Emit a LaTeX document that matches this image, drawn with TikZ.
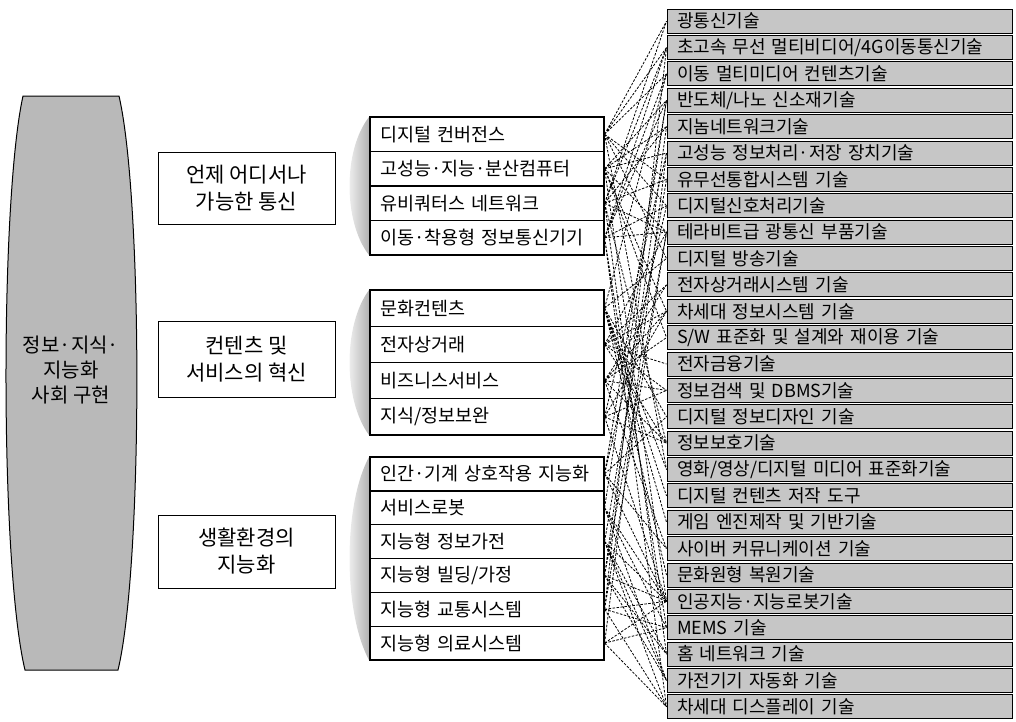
\documentclass[tikz,border=0pt]{standalone}
\usepackage{fontspec}
\setmainfont{Noto Sans CJK KR}
\usepackage{tikz}

\begin{document}
\begin{tikzpicture}[x=1pt, y=-1pt,
	goalText/.style={align=center, font=\fontsize{20}{25}\selectfont},
	areaBox/.style={rectangle, draw=black, line width=1pt, fill=white, minimum width=177pt, align=center, inner sep=0pt, font=\fontsize{21}{27}\selectfont},
	itemBox/.style={rectangle, draw=black, line width=1.2pt, fill=white, text width=214pt, inner xsep=10pt, inner ysep=0pt, align=left, font=\fontsize{18.5}{20}\selectfont},
	techBox/.style={rectangle, draw=black, line width=1pt, fill=gray!45, text width=325pt, inner xsep=10pt, inner ysep=0pt, minimum height=24pt, align=left, font=\fontsize{18}{19}\selectfont},
	link/.style={dashed, dash pattern=on 2.5pt off 1.5pt, line width=0.8pt},
	lens/.style={left color=white, right color=gray!60, draw=none}]
	\useasboundingbox (0,0) rectangle (1016,721);

	% goal
	\draw[fill=gray!55, line width=1pt] (23,96) -- (119,96) .. controls (143,200) and (143,566) .. (118,670) -- (25,670) .. controls (0,566) and (0,200) .. (23,96) -- cycle;
	\node[goalText](goalBox) at (71,370){정보·지식·\\지능화\\사회 구현};

	% areas
	\node[areaBox, minimum height=72pt](areaBox1) at (246.5,188){언제 어디서나\\가능한 통신};
	\node[areaBox, minimum height=76pt](areaBox2) at (246.5,359){컨텐츠 및\\서비스의 혁신};
	\node[areaBox, minimum height=73pt](areaBox3) at (246.5,551.5){생활환경의\\지능화};

	% shading left of each group
	\shade[lens] (369,117) .. controls (343,150) and (343,222) .. (369,255) -- cycle;
	\shade[lens] (369,290) .. controls (343,325) and (343,400) .. (369,435) -- cycle;
	\shade[lens] (369,457) .. controls (343,505) and (343,612) .. (369,660) -- cycle;

	% items
	\node[itemBox, minimum height=34.5pt](itemBox1)  at (487,134.25){디지털 컨버전스};
	\node[itemBox, minimum height=34.5pt](itemBox2)  at (487,168.75){고성능·지능·분산컴퓨터};
	\node[itemBox, minimum height=34.5pt](itemBox3)  at (487,203.25){유비쿼터스 네트워크};
	\node[itemBox, minimum height=34.5pt](itemBox4)  at (487,237.75){이동·착용형 정보통신기기};

	\node[itemBox, minimum height=36.25pt](itemBox5) at (487,308.1){문화컨텐츠};
	\node[itemBox, minimum height=36.25pt](itemBox6) at (487,344.4){전자상거래};
	\node[itemBox, minimum height=36.25pt](itemBox7) at (487,380.6){비즈니스서비스};
	\node[itemBox, minimum height=36.25pt](itemBox8) at (487,416.9){지식/정보보완};

	\node[itemBox, minimum height=33.8pt](itemBox9)  at (487,473.9){인간·기계 상호작용 지능화};
	\node[itemBox, minimum height=33.8pt](itemBox10) at (487,507.8){서비스로봇};
	\node[itemBox, minimum height=33.8pt](itemBox11) at (487,541.6){지능형 정보가전};
	\node[itemBox, minimum height=33.8pt](itemBox12) at (487,575.4){지능형 빌딩/가정};
	\node[itemBox, minimum height=33.8pt](itemBox13) at (487,609.2){지능형 교통시스템};
	\node[itemBox, minimum height=33.8pt](itemBox14) at (487,643.1){지능형 의료시스템};

	% technologies
	\node[techBox](techBox1)  at (839.5,21.2){광통신기술};
	\node[techBox](techBox2)  at (839.5,47.6){초고속 무선 멀티비디어/4G이동통신기술};
	\node[techBox](techBox3)  at (839.5,73.9){이동 멀티미디어 컨텐츠기술};
	\node[techBox](techBox4)  at (839.5,100.3){반도체/나노 신소재기술};
	\node[techBox](techBox5)  at (839.5,126.7){지놈네트워크기술};
	\node[techBox](techBox6)  at (839.5,153.1){고성능 정보처리·저장 장치기술};
	\node[techBox](techBox7)  at (839.5,179.4){유무선통합시스템 기술};
	\node[techBox](techBox8)  at (839.5,205.8){디지털신호처리기술};
	\node[techBox](techBox9)  at (839.5,232.2){테라비트급 광통신 부품기술};
	\node[techBox](techBox10) at (839.5,258.5){디지털 방송기술};
	\node[techBox](techBox11) at (839.5,284.9){전자상거래시스템 기술};
	\node[techBox](techBox12) at (839.5,311.3){차세대 정보시스템 기술};
	\node[techBox](techBox13) at (839.5,337.6){S/W 표준화 및 설계와 재이용 기술};
	\node[techBox](techBox14) at (839.5,364.0){전자금융기술};
	\node[techBox](techBox15) at (839.5,390.4){정보검색 및 DBMS기술};
	\node[techBox](techBox16) at (839.5,416.8){디지털 정보디자인 기술};
	\node[techBox](techBox17) at (839.5,443.1){정보보호기술};
	\node[techBox](techBox18) at (839.5,469.5){영화/영상/디지털 미디어 표준화기술};
	\node[techBox](techBox19) at (839.5,495.9){디지털 컨텐츠 저작 도구};
	\node[techBox](techBox20) at (839.5,522.2){게임 엔진제작 및 기반기술};
	\node[techBox](techBox21) at (839.5,548.6){사이버 커뮤니케이션 기술};
	\node[techBox](techBox22) at (839.5,575.0){문화원형 복원기술};
	\node[techBox](techBox23) at (839.5,601.3){인공지능·지능로봇기술};
	\node[techBox](techBox24) at (839.5,627.7){MEMS 기술};
	\node[techBox](techBox25) at (839.5,654.1){홈 네트워크 기술};
	\node[techBox](techBox26) at (839.5,680.5){가전기기 자동화 기술};
	\node[techBox](techBox27) at (839.5,706.8){차세대 디스플레이 기술};

	% links
	\draw[link] (itemBox1.east) -- (techBox1.west) (itemBox1.east) -- (techBox2.west) (itemBox1.east) -- (techBox3.west) (itemBox1.east) -- (techBox7.west) (itemBox1.east) -- (techBox8.west) (itemBox1.east) -- (techBox10.west) (itemBox1.east) -- (techBox18.west);
	\draw[link] (itemBox2.east) -- (techBox4.west) (itemBox2.east) -- (techBox5.west) (itemBox2.east) -- (techBox6.west) (itemBox2.east) -- (techBox9.west) (itemBox2.east) -- (techBox12.west) (itemBox2.east) -- (techBox13.west) (itemBox2.east) -- (techBox23.west);
	\draw[link] (itemBox3.east) -- (techBox1.west) (itemBox3.east) -- (techBox2.west) (itemBox3.east) -- (techBox5.west) (itemBox3.east) -- (techBox7.west) (itemBox3.east) -- (techBox9.west) (itemBox3.east) -- (techBox17.west) (itemBox3.east) -- (techBox25.west);
	\draw[link] (itemBox4.east) -- (techBox2.west) (itemBox4.east) -- (techBox3.west) (itemBox4.east) -- (techBox4.west) (itemBox4.east) -- (techBox8.west) (itemBox4.east) -- (techBox9.west) (itemBox4.east) -- (techBox24.west) (itemBox4.east) -- (techBox27.west);
	\draw[link] (itemBox5.east) -- (techBox3.west) (itemBox5.east) -- (techBox10.west) (itemBox5.east) -- (techBox16.west) (itemBox5.east) -- (techBox18.west) (itemBox5.east) -- (techBox19.west) (itemBox5.east) -- (techBox20.west) (itemBox5.east) -- (techBox22.west);
	\draw[link] (itemBox6.east) -- (techBox9.west) (itemBox6.east) -- (techBox11.west) (itemBox6.east) -- (techBox14.west) (itemBox6.east) -- (techBox15.west) (itemBox6.east) -- (techBox17.west) (itemBox6.east) -- (techBox12.west);
	\draw[link] (itemBox7.east) -- (techBox11.west) (itemBox7.east) -- (techBox12.west) (itemBox7.east) -- (techBox13.west) (itemBox7.east) -- (techBox15.west) (itemBox7.east) -- (techBox17.west) (itemBox7.east) -- (techBox21.west);
	\draw[link] (itemBox8.east) -- (techBox6.west) (itemBox8.east) -- (techBox12.west) (itemBox8.east) -- (techBox15.west) (itemBox8.east) -- (techBox17.west) (itemBox8.east) -- (techBox23.west);
	\draw[link] (itemBox9.east) -- (techBox4.west) (itemBox9.east) -- (techBox8.west) (itemBox9.east) -- (techBox16.west) (itemBox9.east) -- (techBox21.west) (itemBox9.east) -- (techBox23.west);
	\draw[link] (itemBox10.east) -- (techBox4.west) (itemBox10.east) -- (techBox23.west) (itemBox10.east) -- (techBox24.west) (itemBox10.east) -- (techBox26.west);
	\draw[link] (itemBox11.east) -- (techBox7.west) (itemBox11.east) -- (techBox23.west) (itemBox11.east) -- (techBox25.west) (itemBox11.east) -- (techBox26.west) (itemBox11.east) -- (techBox27.west);
	\draw[link] (itemBox12.east) -- (techBox5.west) (itemBox12.east) -- (techBox9.west) (itemBox12.east) -- (techBox23.west) (itemBox12.east) -- (techBox25.west) (itemBox12.east) -- (techBox26.west);
	\draw[link] (itemBox13.east) -- (techBox2.west) (itemBox13.east) -- (techBox9.west) (itemBox13.east) -- (techBox23.west) (itemBox13.east) -- (techBox24.west) (itemBox13.east) -- (techBox27.west);
	\draw[link] (itemBox14.east) -- (techBox6.west) (itemBox14.east) -- (techBox23.west) (itemBox14.east) -- (techBox24.west) (itemBox14.east) -- (techBox27.west);
\end{tikzpicture}
\end{document}
